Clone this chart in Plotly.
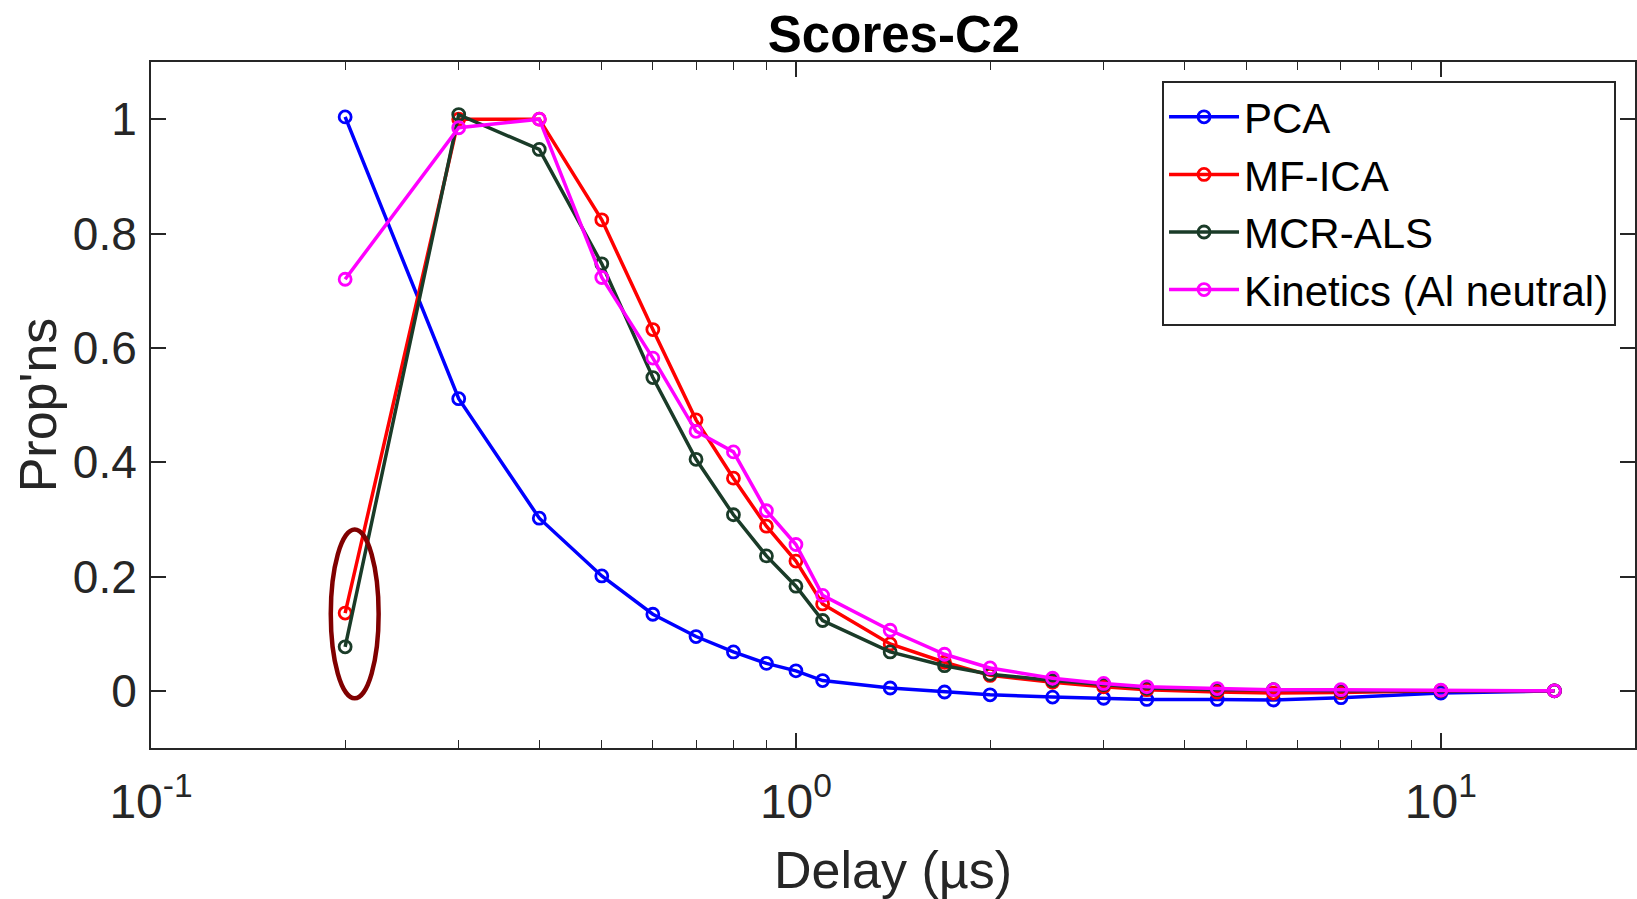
import plotly.graph_objects as go

# ---- data ----
delay_us = [0.2, 0.3, 0.4, 0.5, 0.6, 0.7, 0.8, 0.9, 1.0, 1.1, 1.4, 1.7, 2.0, 2.5, 3.0, 3.5, 4.5, 5.5, 7.0, 10.0, 15.0]

pca = [1.004, 0.511, 0.302, 0.201, 0.134, 0.095, 0.068, 0.048, 0.035, 0.018, 0.005, -0.002, -0.007,
       -0.011, -0.013, -0.015, -0.015, -0.016, -0.012, -0.004, 0.0]
mf_ica = [0.136, 1.0, 1.0, 0.824, 0.632, 0.474, 0.372, 0.288, 0.227, 0.152, 0.082, 0.050, 0.027,
          0.015, 0.007, 0.002, -0.002, -0.004, -0.003, 0.0, 0.0]
mcr_als = [0.077, 1.008, 0.947, 0.747, 0.548, 0.405, 0.308, 0.236, 0.183, 0.123, 0.068, 0.044, 0.029,
           0.018, 0.011, 0.005, 0.002, 0.002, 0.0, 0.0, 0.0]
kinetics = [0.720, 0.985, 1.0, 0.723, 0.582, 0.454, 0.418, 0.315, 0.256, 0.167, 0.106, 0.064, 0.040,
            0.022, 0.013, 0.007, 0.004, 0.002, 0.002, 0.001, 0.0]

series_names = ["PCA", "MF-ICA", "MCR-ALS", "Kinetics (Al neutral)"]
series_values = [pca, mf_ica, mcr_als, kinetics]
series_colors = ["#0000FF", "#FF0000", "#1A3B28", "#FF00FF"]

x_tickvals = [0.1, 1, 10]
x_ticktext = ["10<sup>-1</sup>", "10<sup>0</sup>", "10<sup>1</sup>"]
x_minor = [0.2, 0.3, 0.4, 0.5, 0.6, 0.7, 0.8, 0.9, 2, 3, 4, 5, 6, 7, 8, 9]
y_tickvals = [0, 0.2, 0.4, 0.6, 0.8, 1]
y_ticktext = ["0", "0.2", "0.4", "0.6", "0.8", "1"]

FONT = "Liberation Sans, Arial, Helvetica, sans-serif"
AX = "#262626"

fig = go.Figure()
for name, vals, col in zip(series_names, series_values, series_colors):
    fig.add_trace(go.Scatter(
        x=delay_us, y=vals, name=name, mode="lines+markers",
        line=dict(color=col, width=3.5),
        marker=dict(symbol="circle-open", size=12, color=col, line=dict(width=2.8, color=col)),
    ))

# highlight ellipse around the first MF-ICA / MCR-ALS points
fig.add_shape(type="circle", xref="x", yref="y", x0=0.190, x1=0.2254, y0=-0.013, y1=0.282,
              line=dict(color="#800000", width=4.5), layer="above")

fig.update_layout(
    width=1637, height=899,
    margin=dict(l=151, r=0, t=62, b=151),
    paper_bgcolor="white", plot_bgcolor="white",
    font=dict(family=FONT, size=44, color=AX),
    title=dict(text="<b>Scores-C2</b>", x=(151 + 1637) / 2 / 1637, xanchor="center",
               y=1 - 34 / 899, yanchor="middle", yref="container",
               font=dict(family=FONT, size=51, color="#000000")),
    showlegend=True,
    legend=dict(x=(1618 - 151) / 1486, xanchor="right", y=(748 - 81) / 686, yanchor="top",
                bgcolor="white", bordercolor="#262626", borderwidth=2,
                font=dict(family=FONT, size=42, color="#000000"),
                itemwidth=70, tracegroupgap=0),
    xaxis=dict(type="log", range=[-1, 1.30103], showgrid=False, zeroline=False,
               showline=True, linecolor=AX, linewidth=2, mirror="ticks",
               ticks="inside", ticklen=15, tickwidth=1.5, tickcolor=AX,
               tickvals=x_tickvals, ticktext=x_ticktext, ticklabelstandoff=10,
               tickfont=dict(family=FONT, size=48, color=AX),
               minor=dict(ticks="inside", ticklen=8, tickwidth=1.2, tickcolor=AX,
                          tickvals=x_minor, showgrid=False),
               title=dict(text="Delay (µs)", font=dict(family=FONT, size=52, color=AX), standoff=28)),
    yaxis=dict(range=[-0.1, 1.1], showgrid=False, zeroline=False,
               showline=True, linecolor=AX, linewidth=2, mirror="ticks",
               ticks="inside", ticklen=15, tickwidth=1.5, tickcolor=AX,
               tickvals=y_tickvals, ticktext=y_ticktext, ticklabelstandoff=3,
               tickfont=dict(family=FONT, size=46, color=AX),
               title=dict(text="Prop'ns", font=dict(family=FONT, size=52, color=AX), standoff=0)),
)

fig.write_html("out.html", config={"displayModeBar": False},
               post_script="document.body.style.margin='0';")
